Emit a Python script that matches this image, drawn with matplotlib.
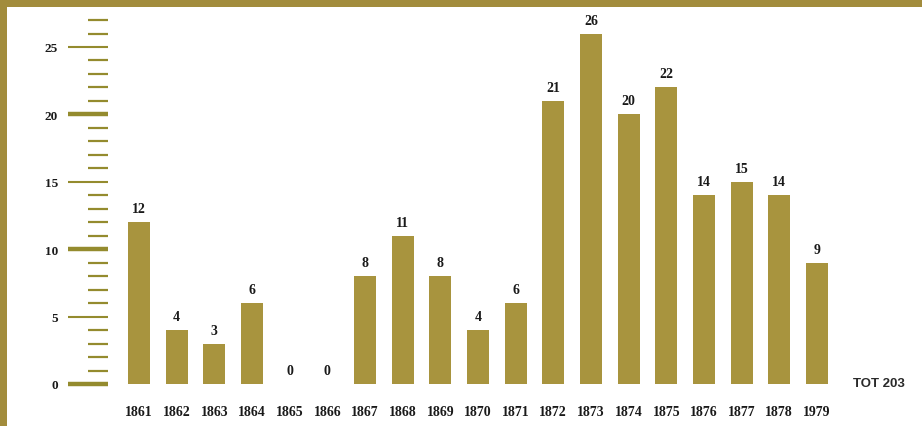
import matplotlib.pyplot as plt
from matplotlib.patches import Rectangle
from matplotlib.ticker import FixedLocator

years = ["1861", "1862", "1863", "1864", "1865", "1866", "1867", "1868", "1869", "1870",
         "1871", "1872", "1873", "1874", "1875", "1876", "1877", "1878", "1979"]
counts = [12, 4, 3, 6, 0, 0, 8, 11, 8, 4, 6, 21, 26, 20, 22, 14, 15, 14, 9]
major_ticks = [0, 5, 10, 15, 20, 25]
minor_ticks = list(range(0, 28))
thick_ticks = [0, 10, 20]
total_label = "TOT 203"

frame_gold = "#a28c3c"
bar_gold = "#a8943e"
tick_gold = "#948b2e"
text_dark = "#1a1a1a"


def main():
    fig = plt.figure(figsize=(9.22, 4.27), dpi=100)
    fig.patch.set_facecolor("white")

    # gold frame on top and left edge
    fig.patches.append(Rectangle((0, 1 - 8 / 427), 1, 8 / 427, transform=fig.transFigure,
                                 facecolor=frame_gold, edgecolor="none"))
    fig.patches.append(Rectangle((0, 0), 7 / 922, 1, transform=fig.transFigure,
                                 facecolor=frame_gold, edgecolor="none"))

    ax = fig.add_axes([108 / 922, 42 / 427, 814 / 922, 28.5 * 13.48 / 427])
    x = list(range(len(years)))
    bars = ax.bar(x, counts, width=0.58, color=bar_gold, edgecolor="none")
    ax.bar_label(bars, labels=[str(c) for c in counts], padding=5, fontsize=10,
                 fontweight="bold", family="Liberation Serif", color=text_dark)

    ax.set_xlim(-0.823, 20.79)
    ax.set_ylim(0, 28.5)

    for s in ax.spines.values():
        s.set_visible(False)

    ax.set_xticks(x)
    ax.set_xticklabels(years, fontsize=10, fontweight="bold", family="Liberation Serif",
                       color=text_dark)
    ax.tick_params(axis="x", length=0, pad=15)

    ax.yaxis.set_major_locator(FixedLocator(major_ticks))
    ax.yaxis.set_minor_locator(FixedLocator(minor_ticks))
    ax.tick_params(axis="y", which="major", length=29, width=1.5, color=tick_gold,
                   pad=7, labelsize=9.5, labelcolor=text_dark)
    ax.tick_params(axis="y", which="minor", length=14.5, width=1.6, color=tick_gold)
    for lbl in ax.get_yticklabels():
        lbl.set_family("Liberation Serif")
        lbl.set_fontweight("bold")
    for t, v in zip(ax.yaxis.get_major_ticks(), major_ticks):
        if v in thick_ticks:
            t.tick1line.set_markeredgewidth(3.2)

    ax.text(len(years) + 0.64, 0.1, total_label, ha="center", va="center", fontsize=9.5,
            fontweight="bold", family="Liberation Sans", color="#2a2a2a")

    fig.savefig("out.png", dpi=100)


if __name__ == "__main__":
    main()
